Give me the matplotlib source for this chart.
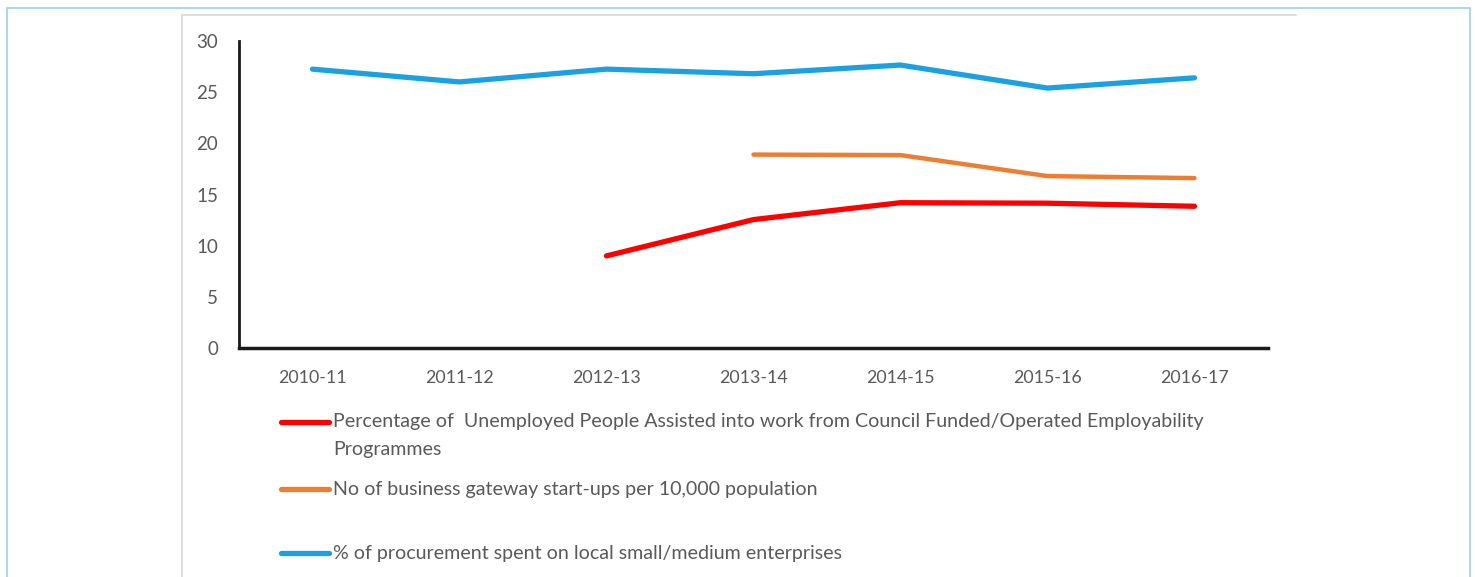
import matplotlib
matplotlib.use("Agg")
import matplotlib.pyplot as plt
from matplotlib.lines import Line2D
from matplotlib.patches import Rectangle
import numpy as np

years = ["2010-11", "2011-12", "2012-13", "2013-14", "2014-15", "2015-16", "2016-17"]
unemployed_assisted = [np.nan, np.nan, 9.0, 12.55, 14.2, 14.15, 13.85]
gateway_startups = [np.nan, np.nan, np.nan, 18.9, 18.85, 16.8, 16.6]
procurement_sme = [27.25, 26.0, 27.25, 26.8, 27.65, 25.4, 26.4]

labels = [
    "Percentage of  Unemployed People Assisted into work from Council Funded/Operated Employability",
    "No of business gateway start-ups per 10,000 population",
    "% of procurement spent on local small/medium enterprises",
]
colors = ["#FF0000", "#ED7D31", "#1BA1E2"]
widths = [3.8, 3.2, 3.8]
series = [unemployed_assisted, gateway_startups, procurement_sme]

plt.rcParams['font.family'] = ['Lato', 'DejaVu Sans']
TXT = "#595959"
W, H = 1475, 577
fig = plt.figure(figsize=(W / 100, H / 100), dpi=100)

# outer frame and inner panel edges
fig.add_artist(Rectangle((7 / W, -0.1), (1470 - 7) / W, 1 - 8 / H + 0.1,
                         transform=fig.transFigure, fill=False,
                         edgecolor="#A6D2EF", lw=1.3))
fig.add_artist(Line2D([182 / W, 1296 / W], [1 - 15 / H, 1 - 15 / H],
                      transform=fig.transFigure, color="#D9D9D9", lw=1.2))
fig.add_artist(Line2D([182 / W, 182 / W], [1 - 15 / H, 0],
                      transform=fig.transFigure, color="#D9D9D9", lw=1.2))

ax = fig.add_axes([239 / W, 1 - 348 / H, (1268 - 239) / W, (348 - 41) / H])
x = np.arange(len(years))
for vals, c, lw in zip(series, colors, widths):
    ax.plot(x, vals, color=c, lw=lw, solid_capstyle="round", solid_joinstyle="round")

ax.set_xlim(-0.5, len(years) - 0.5)
ax.set_ylim(0, 30)
ax.set_yticks([0, 5, 10, 15, 20, 25, 30])
ax.set_xticks(x)
ax.set_xticklabels(years)
ax.tick_params(length=0, labelsize=12.8, colors=TXT)
ax.tick_params(axis="x", pad=16)
ax.tick_params(axis="y", pad=15, labelsize=13.5)
for s in ["top", "right"]:
    ax.spines[s].set_visible(False)
ax.spines["left"].set_linewidth(2)
ax.spines["bottom"].set_linewidth(2.5)
ax.spines["left"].set_color("#1a1a1a")
ax.spines["bottom"].set_color("#1a1a1a")
ax.patch.set_alpha(0)

# legend
leg_y = [422, 489, 553]
FS = 14.15
for lab, c, yy in zip(labels, colors, leg_y):
    fig.add_artist(Line2D([281 / W, 329 / W], [1 - yy / H, 1 - yy / H],
                          transform=fig.transFigure, color=c, lw=3.8,
                          solid_capstyle="round"))
    fig.text(333 / W, 1 - yy / H, lab, fontsize=FS, color=TXT, va="center", ha="left")
fig.text(333 / W, 1 - 449 / H, "Programmes", fontsize=FS, color=TXT, va="center", ha="left")

fig.savefig("out.png", dpi=100)
